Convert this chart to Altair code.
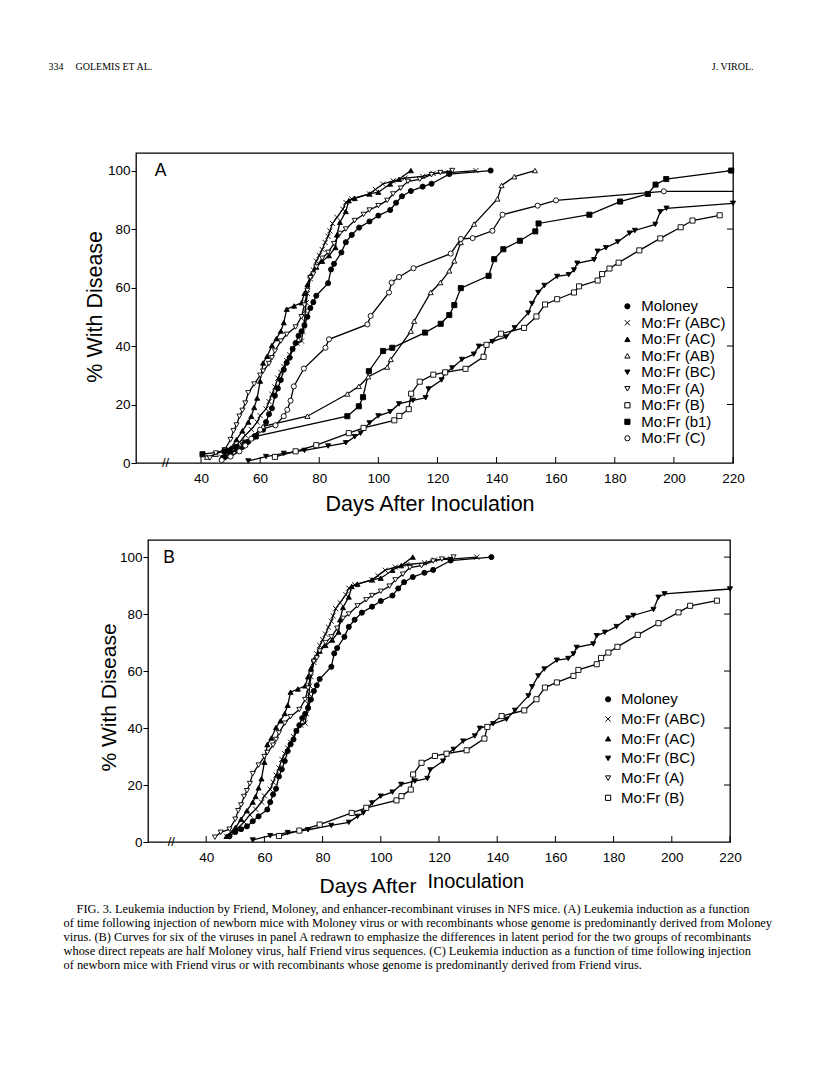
import altair as alt
import pandas as pd

# ------------------------------------------------------------------ data
SERIES_A = ["Moloney", "Mo:Fr (ABC)", "Mo:Fr (AC)", "Mo:Fr (AB)", "Mo:Fr (BC)",
            "Mo:Fr (A)", "Mo:Fr (B)", "Mo:Fr (b1)", "Mo:Fr (C)"]
SERIES_B = ["Moloney", "Mo:Fr (ABC)", "Mo:Fr (AC)", "Mo:Fr (BC)", "Mo:Fr (A)", "Mo:Fr (B)"]

X_TICKS = [40, 60, 80, 100, 120, 140, 160, 180, 200, 220]
Y_TICKS = [0, 20, 40, 60, 80, 100]
RIGHT_TICKS = [20, 40, 60, 80, 100]

moloney_days = [48, 50, 52, 54, 56, 58, 61, 62, 63, 64, 65, 66, 67, 68, 69, 70, 71, 72, 73, 74,
                75, 76, 77, 78, 79, 83, 84, 85, 87.5, 89, 91, 93.5, 97, 100, 104, 106, 108, 111,
                115, 118, 124, 138]
moloney_pct = [2, 3.5, 4.5, 5.5, 7.3, 9, 11.4, 14, 16.7, 18.7, 23, 25.5, 28.4, 31.9, 34.3, 36,
               39, 41, 43.5, 45, 47, 50, 53, 55, 57.2, 61.5, 66.2, 68.1, 72, 75.5, 78, 80.5,
               82.6, 84.6, 86.5, 89, 91.2, 93, 94.5, 95.5, 98.8, 100]

abc_days = [47, 49, 51, 53, 55, 57, 59, 60, 62, 63, 64, 65, 66, 67, 68, 69, 70, 71, 72.5, 74,
            74.5, 75, 75.3, 75.6, 76, 77, 78, 79, 80, 81, 82, 83, 83.6, 84.5, 86, 88, 89, 91,
            97, 99, 101.5, 105, 109, 115, 118.5, 124, 133]
abc_pct = [2, 3.5, 5, 7, 9.5, 11.5, 14, 16.2, 18.5, 21, 23.5, 26, 29, 31, 33, 35, 37, 39, 41,
           41.7, 45, 48.5, 52, 54.8, 58, 63, 66, 69, 71, 73, 75.4, 77.5, 79.4, 81.9, 84, 86.8,
           89.1, 90.3, 92, 93.5, 95.4, 96.5, 97.4, 98, 99, 99.3, 100]

ac_days = [47, 50, 52, 54, 56, 57, 58, 59, 60, 61, 62.4, 64, 65.5, 67, 68, 69, 71.5, 74, 75, 76,
           77, 79, 81, 83.3, 85.5, 86, 87, 89, 90, 92, 97, 100, 104, 107, 111]
ac_pct = [2, 5, 8, 11, 14, 16, 19, 22.2, 28, 34.2, 36.5, 40.2, 42.5, 45.1, 48, 52.6, 53.7, 54.8,
          58, 61, 64, 67, 69, 70.9, 73.7, 78, 82.3, 86, 89.7, 90.5, 92, 92.6, 95.4, 97, 100]

ab_days = [42, 45, 48, 53, 57, 61, 76, 89.5, 93.4, 96.6, 103, 104.2, 111, 112.1, 117.7, 121,
           124, 125.7, 127.9, 132.4, 140.3, 141.7, 146, 153]
ab_pct = [2, 3, 4.5, 6.5, 8.5, 12.5, 16, 23.6, 26.2, 29.5, 32.8, 35.4, 45.1, 48.5, 58.3, 61.7,
          65.7, 69.1, 75.4, 81.7, 90.3, 94.9, 97.9, 100]

bc_days = [56, 62, 68, 75, 83, 89, 92, 94, 97, 100, 104, 107, 111.7, 116, 117, 121.4, 122.6, 125,
           128.3, 132.3, 134, 138.6, 143.2, 146.1, 150.7, 152, 154.1, 156.2, 160.5, 164.4, 166.2,
           167.3, 173, 174.2, 177, 181, 185, 186.8, 193.7, 195.4, 197.5, 220]
bc_pct = [0.7, 2.2, 3.3, 4.3, 5.8, 6.9, 9, 10.2, 13.7, 16.1, 17.5, 20.2, 21.4, 22.3, 25.3, 28.4,
          30.8, 32.5, 35.4, 37.2, 39.9, 41.5, 43.1, 46.2, 51.3, 54.5, 58.3, 60.7, 63.8, 64.4, 66,
          68.3, 69.5, 72.4, 73.6, 75.6, 78.6, 79.5, 81.6, 85.9, 87.1, 88.8]

a_days = [43, 45, 48, 50, 51, 52, 53, 54, 55, 56, 58, 60, 61, 63, 64, 65, 67, 69, 72, 74, 75, 76,
          77, 78, 79, 81, 83, 85, 87, 89, 92, 95, 97, 100, 103, 105, 107.6, 110, 114, 118, 121, 125]
a_pct = [1.7, 3.4, 4.5, 8, 11, 13, 16, 18, 20.5, 24, 27, 30, 31.4, 34, 36, 38.3, 41.7, 44, 46.5,
         50, 54, 59, 63.4, 64.6, 67, 70, 72, 75, 78.5, 80, 82.9, 85, 86.5, 88, 89.8, 92, 94, 96.3,
         97, 98.6, 99.3, 100]

b_days = [65, 72, 79, 90, 95, 105.4, 107.1, 110.3, 111.1, 114, 118.6, 122.6, 129.5, 135.6, 136.6,
          141.5, 149.3, 153.5, 156.4, 160.5, 166.2, 167.9, 174.2, 175.7, 178.2, 181.3, 188.3,
          195.4, 202.3, 206.3, 215.5]
b_pct = [2.1, 4, 6.1, 10.2, 12, 14.6, 16.1, 18.4, 23.7, 27.8, 30.2, 31, 32.2, 36.3, 40.4, 44.2,
         46.2, 50.1, 54.2, 56, 58.3, 60.4, 62.4, 64.6, 66.5, 68.5, 72.7, 76.8, 80.6, 82.9, 84.7]

b1_days = [40.5, 48, 52, 55, 58.5, 89.5, 93.4, 94.8, 96.8, 101.6, 104.7, 115.8, 121.1, 124, 125.7,
           127.9, 137.3, 139.2, 142.3, 147.9, 153.1, 154.2, 171.4, 181.8, 191.2, 193.8, 197.4, 219.4]
b1_pct = [3, 4, 5.5, 7, 9.1, 16, 19.4, 22.5, 31.4, 38.3, 39.4, 44.6, 47.6, 50.6, 54, 59.8, 64,
          69.7, 73.1, 76, 79.2, 81.9, 84.9, 89.4, 92, 95.2, 97.1, 100]

c_days = [47, 50, 53, 55, 57, 60, 65.2, 68, 69.2, 70.3, 71.4, 74.8, 82.1, 83.3, 96.3, 97.4, 103.6,
          104.5, 107, 111.9, 124.5, 127.9, 131.9, 138.6, 142, 153.9, 160.1, 196.6]
c_pct = [1, 2.2, 4, 6, 8.3, 11.4, 12.9, 16, 18.2, 21.3, 26.2, 32.3, 39.4, 42.3, 47.4, 50.3, 58.3,
         61.7, 63.6, 66.6, 71.6, 76.6, 76.9, 79.4, 84.9, 88, 89.8, 92.9]
# the Mo:Fr (C) curve is carried on (no further cases) to the end of the observation period
c_tail_days = [196.6, 220]
c_tail_pct = [92.9, 92.9]

HEADER_LEFT = "334"
HEADER_AUTHORS = "GOLEMIS ET AL."
HEADER_RIGHT = "J. VIROL."
CAPTION_FIRST = ("FIG. 3.  Leukemia induction by Friend, Moloney, and enhancer-recombinant viruses "
                 "in NFS mice. (A) Leukemia induction as a function")
CAPTION_REST = [
    "of time following injection of newborn mice with Moloney virus or with recombinants whose "
    "genome is predominantly derived from Moloney",
    "virus. (B) Curves for six of the viruses in panel A redrawn to emphasize the differences in "
    "latent period for the two groups of recombinants",
    "whose direct repeats are half Moloney virus, half Friend virus sequences. (C) Leukemia "
    "induction as a function of time following injection",
    "of newborn mice with Friend virus or with recombinants whose genome is predominantly derived "
    "from Friend virus.",
]

series_data = {
    "Moloney": (moloney_days, moloney_pct),
    "Mo:Fr (ABC)": (abc_days, abc_pct),
    "Mo:Fr (AC)": (ac_days, ac_pct),
    "Mo:Fr (AB)": (ab_days, ab_pct),
    "Mo:Fr (BC)": (bc_days, bc_pct),
    "Mo:Fr (A)": (a_days, a_pct),
    "Mo:Fr (B)": (b_days, b_pct),
    "Mo:Fr (b1)": (b1_days, b1_pct),
    "Mo:Fr (C)": (c_days, c_pct),
}
rows = []
for name, (dd, pp) in series_data.items():
    for d, p in zip(dd, pp):
        rows.append({"series": name, "day": d, "pct": p})
data = pd.DataFrame(rows)
tail = pd.DataFrame({"series": "Mo:Fr (C) tail", "day": c_tail_days, "pct": c_tail_pct})

# ------------------------------------------------------------------ styles
FONT = "Liberation Sans"
SERIF = "Liberation Serif"
X_PATH = "M-1,-1L1,1M-1,1L1,-1"
SHAPES = {"Moloney": "circle", "Mo:Fr (ABC)": X_PATH, "Mo:Fr (AC)": "triangle-up",
          "Mo:Fr (AB)": "triangle-up", "Mo:Fr (BC)": "triangle-down", "Mo:Fr (A)": "triangle-down",
          "Mo:Fr (B)": "square", "Mo:Fr (b1)": "square", "Mo:Fr (C)": "circle"}
FILLS = {"Moloney": "black", "Mo:Fr (ABC)": "white", "Mo:Fr (AC)": "black",
         "Mo:Fr (AB)": "white", "Mo:Fr (BC)": "black", "Mo:Fr (A)": "white",
         "Mo:Fr (B)": "white", "Mo:Fr (b1)": "black", "Mo:Fr (C)": "white"}

# page positions (px) of the two plot areas
A_LEFT, A_TOP, A_W, A_H = 134.5, 151.7, 597, 310
B_LEFT, B_TOP, B_W, B_H = 146.5, 539.0, 582, 302
LINE_W = 1.3


def one():
    return pd.DataFrame({"k": [0]})


def txt(text, x, y, size, font=FONT, align="left", baseline="middle", **kw):
    return alt.Chart(one()).mark_text(text=text, font=font, fontSize=size, align=align,
                                      baseline=baseline, color="black", **kw).encode(
        x=alt.value(x), y=alt.value(y))


def panel(names, W, H, xmin, left, top, cfg):
    """Pixel positions in cfg are page coordinates; converted relative to the plot origin."""
    sub = data[data.series.isin(names)]
    xs = alt.Scale(domain=[xmin, 220], nice=False, zero=False)
    ys = alt.Scale(domain=[0, 106], nice=False, zero=False)
    xkw = dict(values=X_TICKS, format="d", ticks=False, tickSize=0, domain=False, grid=False,
               labelFont=FONT, labelFontSize=13.5, labelColor="black", labelPadding=cfg["xlabpad"],
               labelFlush=False, labelOverlap=False)
    if cfg.get("xtitle"):
        xkw.update(title=cfg["xtitle"], titleFont=FONT, titleFontSize=21.5, titleFontWeight="normal",
                   titleColor="black", titleX=cfg["xtitle_xy"][0] - left,
                   titleY=cfg["xtitle_xy"][1] - (top + H),
                   titleAlign="center", titleBaseline="middle")
    else:
        xkw.update(title=None)
    xaxis = alt.Axis(**xkw)
    yaxis = alt.Axis(values=Y_TICKS, format="d", tickSize=5, tickColor="black", tickWidth=1,
                     domain=False, grid=False, labelFont=FONT, labelFontSize=13.5,
                     labelColor="black", labelPadding=1, labelFlush=False, labelOverlap=False,
                     title="% With Disease", titleFont=FONT, titleFontSize=cfg["ytitle_size"],
                     titleFontWeight="normal", titleColor="black", titleAngle=270,
                     titleX=cfg["ytitle_xy"][0] - left, titleY=cfg["ytitle_xy"][1] - top,
                     titleAlign="center", titleBaseline="middle")
    X = alt.X("day:Q", scale=xs, axis=xaxis)
    Y = alt.Y("pct:Q", scale=ys, axis=yaxis)

    layers = []
    if cfg.get("anchor"):
        ax, ay = cfg["anchor"]
        layers.append(alt.Chart(one()).mark_rule(color="white", strokeWidth=0.5).encode(
            x=alt.value(ax - left), y=alt.value(ay - top),
            x2=alt.value(ax - left + 1), y2=alt.value(ay - top + 1)))

    for (t, x, y, size, font, align, baseline, extra) in cfg.get("texts", []):
        layers.append(txt(t, x - left, y - top, size, font=font, align=align, baseline=baseline,
                          **extra))

    layers.append(alt.Chart(pd.DataFrame({"pct": RIGHT_TICKS})).mark_rule(
        color="black", strokeWidth=1).encode(y=Y, x=alt.value(W - 6), x2=alt.value(W)))
    layers.append(alt.Chart(pd.DataFrame({"day": X_TICKS})).mark_rule(
        color="black", strokeWidth=1).encode(x=X, y=alt.value(H - 6), y2=alt.value(H)))
    layers.append(alt.Chart(pd.DataFrame({"day": [28], "pct": [0]})).mark_text(
        text="//", font=FONT, fontSize=13, align="center", baseline="middle",
        color="black").encode(x=X, y=Y))

    line_df = sub
    if "Mo:Fr (C)" in names:
        line_df = pd.concat([sub, tail], ignore_index=True)
    layers.append(alt.Chart(line_df).mark_line(color="black", strokeWidth=LINE_W).encode(
        x=X, y=Y, detail="series:N", order="day:Q"))

    lx, ly = cfg["leg_sym"]
    leg = alt.Legend(title=None, orient="none", legendX=lx - 2.6 - left - 6,
                     legendY=ly - cfg["leg_half"] - top,
                     padding=0, offset=0, labelFont=FONT, labelFontSize=15, labelColor="black",
                     labelOffset=cfg["leg_text_x"] - (lx + 2.6) - 5, symbolSize=27,
                     symbolStrokeWidth=1, rowPadding=cfg["leg_rp"], symbolOpacity=1)
    n = len(names)
    layers.append(alt.Chart(sub).mark_point(filled=True, strokeWidth=0.9, size=26,
                                            opacity=1).encode(
        x=X, y=Y,
        shape=alt.Shape("series:N", scale=alt.Scale(domain=names, range=[SHAPES[k] for k in names]),
                        legend=leg),
        fill=alt.Fill("series:N", scale=alt.Scale(domain=names, range=[FILLS[k] for k in names]),
                      legend=leg),
        stroke=alt.Stroke("series:N", scale=alt.Scale(domain=names, range=["black"] * n),
                          legend=leg),
    ))
    return alt.layer(*layers).properties(width=W, height=H)


cfgA = dict(
    xlabpad=8, xtitle="Days After Inoculation", xtitle_xy=(428, 503),
    ytitle_xy=(94, 305), ytitle_size=21.5,
    anchor=(8, 8),
    leg_sym=(627, 305), leg_half=7.5, leg_text_x=641, leg_rp=0.5,
    texts=[
        (HEADER_LEFT, 47, 66, 10, SERIF, "left", "middle", {}),
        (HEADER_AUTHORS, 74, 66, 10, SERIF, "left", "middle", {}),
        (HEADER_RIGHT, 752, 66, 10, SERIF, "right", "middle", {}),
        ("A", 159, 169.5, 17.5, FONT, "center", "middle", {}),
    ],
)
cfgB = dict(
    xlabpad=8,
    ytitle_xy=(108, 696), ytitle_size=21,
    anchor=(8, 530),
    leg_sym=(607.7, 698.3), leg_half=7.5, leg_text_x=620.7, leg_rp=3.7,
    texts=[
        ("B", 167.5, 556.7, 17.5, FONT, "center", "middle", {}),
        ("Days After", 318, 886, 21, FONT, "left", "middle", {}),
        ("Inoculation", 426, 881, 20, FONT, "left", "middle", {}),
        (CAPTION_FIRST, 75, 912, 12.4, SERIF, "left", "alphabetic", {}),
        (CAPTION_REST, 62, 926, 12.4, SERIF, "left", "alphabetic", {"lineHeight": 14}),
    ],
)

panelA = panel(SERIES_A, A_W, A_H, 18, A_LEFT, A_TOP, cfgA)
panelB = panel(SERIES_B, B_W, B_H, 20, B_LEFT, B_TOP, cfgB)

spacer = alt.Chart(one()).mark_point(opacity=0).encode(
    x=alt.value(0), y=alt.value(0)).properties(
    width=B_LEFT - A_LEFT, height=10, view=alt.ViewBackground(stroke="transparent"))

rowB = alt.HConcatChart(hconcat=[spacer, panelB], spacing=0, bounds="flush").resolve_scale(
    shape="independent", fill="independent", stroke="independent")

chart = alt.ConcatChart(concat=[panelA, rowB], columns=1, bounds="flush",
                        spacing=round(B_TOP - A_TOP - A_H)).resolve_scale(
    x="independent", y="independent", shape="independent", fill="independent",
    stroke="independent").resolve_legend(
    shape="independent", fill="independent", stroke="independent").configure_view(
    stroke="black", strokeWidth=1.3).properties(padding=0)

chart.save("out.html", embed_options={"renderer": "svg", "actions": False})
